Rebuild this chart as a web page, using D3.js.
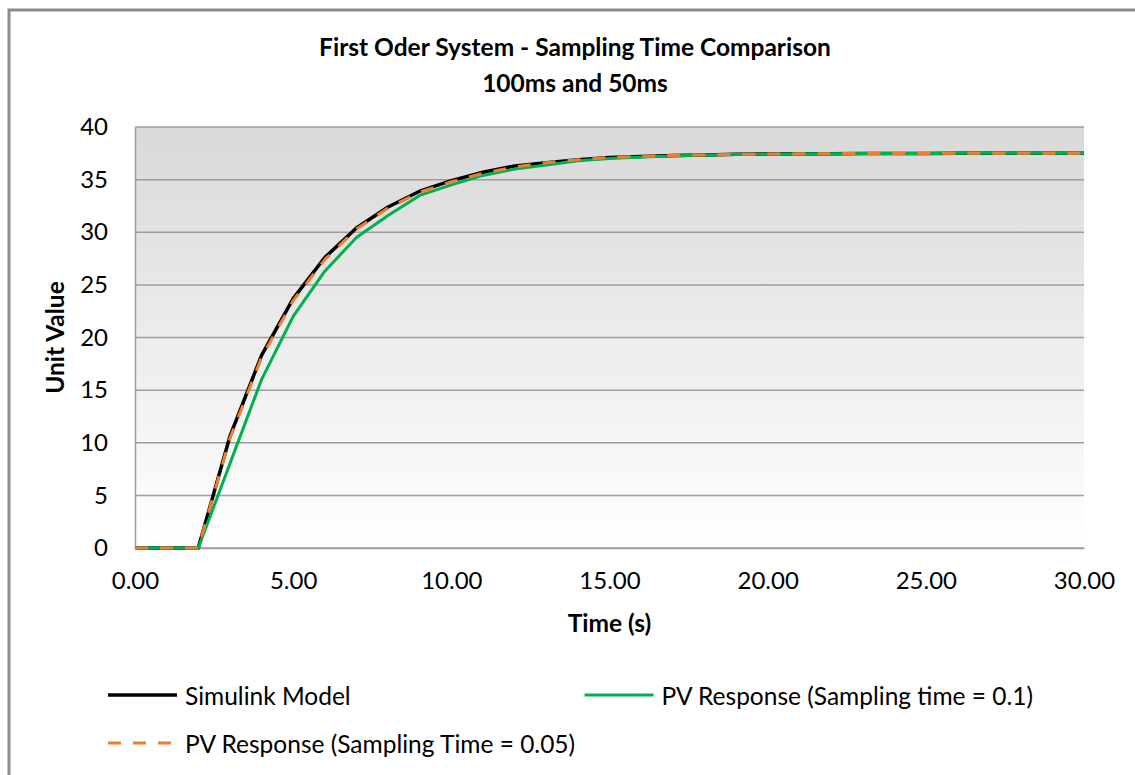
<!DOCTYPE html>
<html>
<head>
<meta charset="utf-8">
<script src="https://cdn.jsdelivr.net/npm/d3@7"></script>
<style>
  html, body { margin: 0; padding: 0; background: #ffffff; }
  svg { display: block; font-family: Lato, "Open Sans", sans-serif; }
</style>
</head>
<body>
<svg id="chart" width="1135" height="775"></svg>
<script>
// Time samples (s)
const times = [0, 1, 2, 3, 4, 5, 6, 7, 8, 9, 10, 11, 12, 13, 14, 15,
               16, 17, 18, 19, 20, 21, 22, 23, 24, 25, 26, 27, 28, 29, 30];

// Simulink reference model output
const simulinkModel = [0, 0, 0, 10.6, 18.3, 23.7, 27.6, 30.4, 32.4, 33.9, 34.9,
                       35.7, 36.3, 36.6, 36.9, 37.1, 37.2, 37.3, 37.35, 37.4, 37.43,
                       37.45, 37.47, 37.48, 37.49, 37.49, 37.5, 37.5, 37.5, 37.5, 37.5];

// PV response, sampling time 0.1 s
const pvResponse01 = [0, 0, 0, 8.0, 16.0, 22.0, 26.3, 29.5, 31.6, 33.5, 34.5,
                      35.4, 36.0, 36.4, 36.8, 37.0, 37.15, 37.25, 37.33, 37.38, 37.42,
                      37.45, 37.47, 37.48, 37.49, 37.49, 37.5, 37.5, 37.5, 37.5, 37.5];

// PV response, sampling time 0.05 s
const pvResponse005 = [0, 0, 0, 10.4, 18.1, 23.5, 27.4, 30.3, 32.3, 33.8, 34.8,
                       35.6, 36.2, 36.6, 36.9, 37.1, 37.2, 37.3, 37.35, 37.4, 37.43,
                       37.45, 37.47, 37.48, 37.49, 37.49, 37.5, 37.5, 37.5, 37.5, 37.5];

const xTicks = [0, 5, 10, 15, 20, 25, 30];
const yTicks = [0, 5, 10, 15, 20, 25, 30, 35, 40];

const seriesNames = ["Simulink Model", "PV Response (Sampling time = 0.1)", "PV Response (Sampling Time = 0.05)"];
const seriesColors = ["#000000", "#00b050", "#ed7d31"];

const titleLines = ["First Oder System - Sampling Time Comparison", "100ms and 50ms"];

const svg = d3.select("#chart");

// outer chart frame (left and top edges visible)
svg.append("path")
  .attr("d", "M9,775 V10 H1135")
  .attr("fill", "none")
  .attr("stroke", "#8c8c8c")
  .attr("stroke-width", 3);

const plot = { left: 135, right: 1084, top: 127, bottom: 548 };

const x = d3.scaleLinear().domain([0, 30]).range([plot.left, plot.right]);
const y = d3.scaleLinear().domain([0, 40]).range([plot.bottom, plot.top]);

// plot background gradient
const defs = svg.append("defs");
const grad = defs.append("linearGradient")
  .attr("id", "plotFill").attr("x1", 0).attr("y1", 0).attr("x2", 0).attr("y2", 1);
grad.append("stop").attr("offset", "0%").attr("stop-color", "#d9d9d9");
grad.append("stop").attr("offset", "100%").attr("stop-color", "#ffffff");

svg.append("rect")
  .attr("x", plot.left).attr("y", plot.top)
  .attr("width", plot.right - plot.left).attr("height", plot.bottom - plot.top)
  .attr("fill", "url(#plotFill)");

// horizontal gridlines
svg.append("g")
  .selectAll("line")
  .data(yTicks)
  .join("line")
  .attr("x1", plot.left).attr("x2", plot.right)
  .attr("y1", d => y(d)).attr("y2", d => y(d))
  .attr("stroke", "#9d9d9d")
  .attr("stroke-width", 1.5);

// y axis
const yAxis = svg.append("g")
  .attr("transform", `translate(${plot.left},0)`)
  .call(d3.axisLeft(y).tickValues(yTicks).tickSize(0).tickPadding(27).tickFormat(d3.format("d")));
yAxis.select(".domain").attr("stroke", "#9d9d9d").attr("stroke-width", 1.5);
yAxis.selectAll("text").attr("font-size", 24).attr("fill", "#000").attr("font-family", "Lato");

// x axis
const xAxis = svg.append("g")
  .attr("transform", `translate(0,${plot.bottom})`)
  .call(d3.axisBottom(x).tickValues(xTicks).tickSize(0).tickPadding(24).tickFormat(d3.format(".2f")));
xAxis.select(".domain").attr("stroke", "#9d9d9d").attr("stroke-width", 1.5);
xAxis.selectAll("text").attr("font-size", 24).attr("fill", "#000").attr("font-family", "Lato");

// series lines
const seriesData = [simulinkModel, pvResponse01, pvResponse005];
const line = d3.line().x((d, i) => x(times[i])).y(d => y(d));

const styles = [
  { width: 3.5, dash: null },
  { width: 3, dash: null },
  { width: 3, dash: "13,12" }
];

seriesData.forEach((vals, k) => {
  svg.append("path")
    .datum(vals)
    .attr("d", line)
    .attr("fill", "none")
    .attr("stroke", seriesColors[k])
    .attr("stroke-width", styles[k].width)
    .attr("stroke-linejoin", "round")
    .attr("stroke-dasharray", styles[k].dash);
});

// titles
svg.append("g")
  .selectAll("text")
  .data(titleLines)
  .join("text")
  .attr("x", 575)
  .attr("y", (d, i) => 46 + i * 36)
  .attr("text-anchor", "middle")
  .attr("dominant-baseline", "central")
  .attr("font-size", 24.5)
  .attr("font-weight", "bold")
  .text(d => d);

svg.append("text")
  .attr("x", (plot.left + plot.right) / 2)
  .attr("y", 622)
  .attr("text-anchor", "middle")
  .attr("dominant-baseline", "central")
  .attr("font-size", 24.5)
  .attr("font-weight", "bold")
  .text("Time (s)");

svg.append("text")
  .attr("transform", `translate(54,${(plot.top + plot.bottom) / 2}) rotate(-90)`)
  .attr("text-anchor", "middle")
  .attr("dominant-baseline", "central")
  .attr("font-size", 24.5)
  .attr("font-weight", "bold")
  .text("Unit Value");

// legend
const legendItems = [
  { k: 0, lineX: 108, y: 695 },
  { k: 1, lineX: null, y: 695, textEnd: 1033 },
  { k: 2, lineX: 108, y: 743 }
];
const legend = svg.append("g");
legendItems.forEach(it => {
  const g = legend.append("g");
  const t = g.append("text")
    .attr("y", it.y)
    .attr("dominant-baseline", "central")
    .attr("font-size", 24.5)
    .text(seriesNames[it.k]);
  let lx = it.lineX;
  if (lx === null) {
    const w = t.node().getComputedTextLength();
    lx = it.textEnd - w - 77;
  }
  t.attr("x", lx + 77);
  g.append("line")
    .attr("x1", lx).attr("x2", lx + 69)
    .attr("y1", it.y).attr("y2", it.y)
    .attr("stroke", seriesColors[it.k])
    .attr("stroke-width", it.k === 0 ? 3.5 : 3)
    .attr("stroke-dasharray", styles[it.k].dash);
});
</script>
</body>
</html>
